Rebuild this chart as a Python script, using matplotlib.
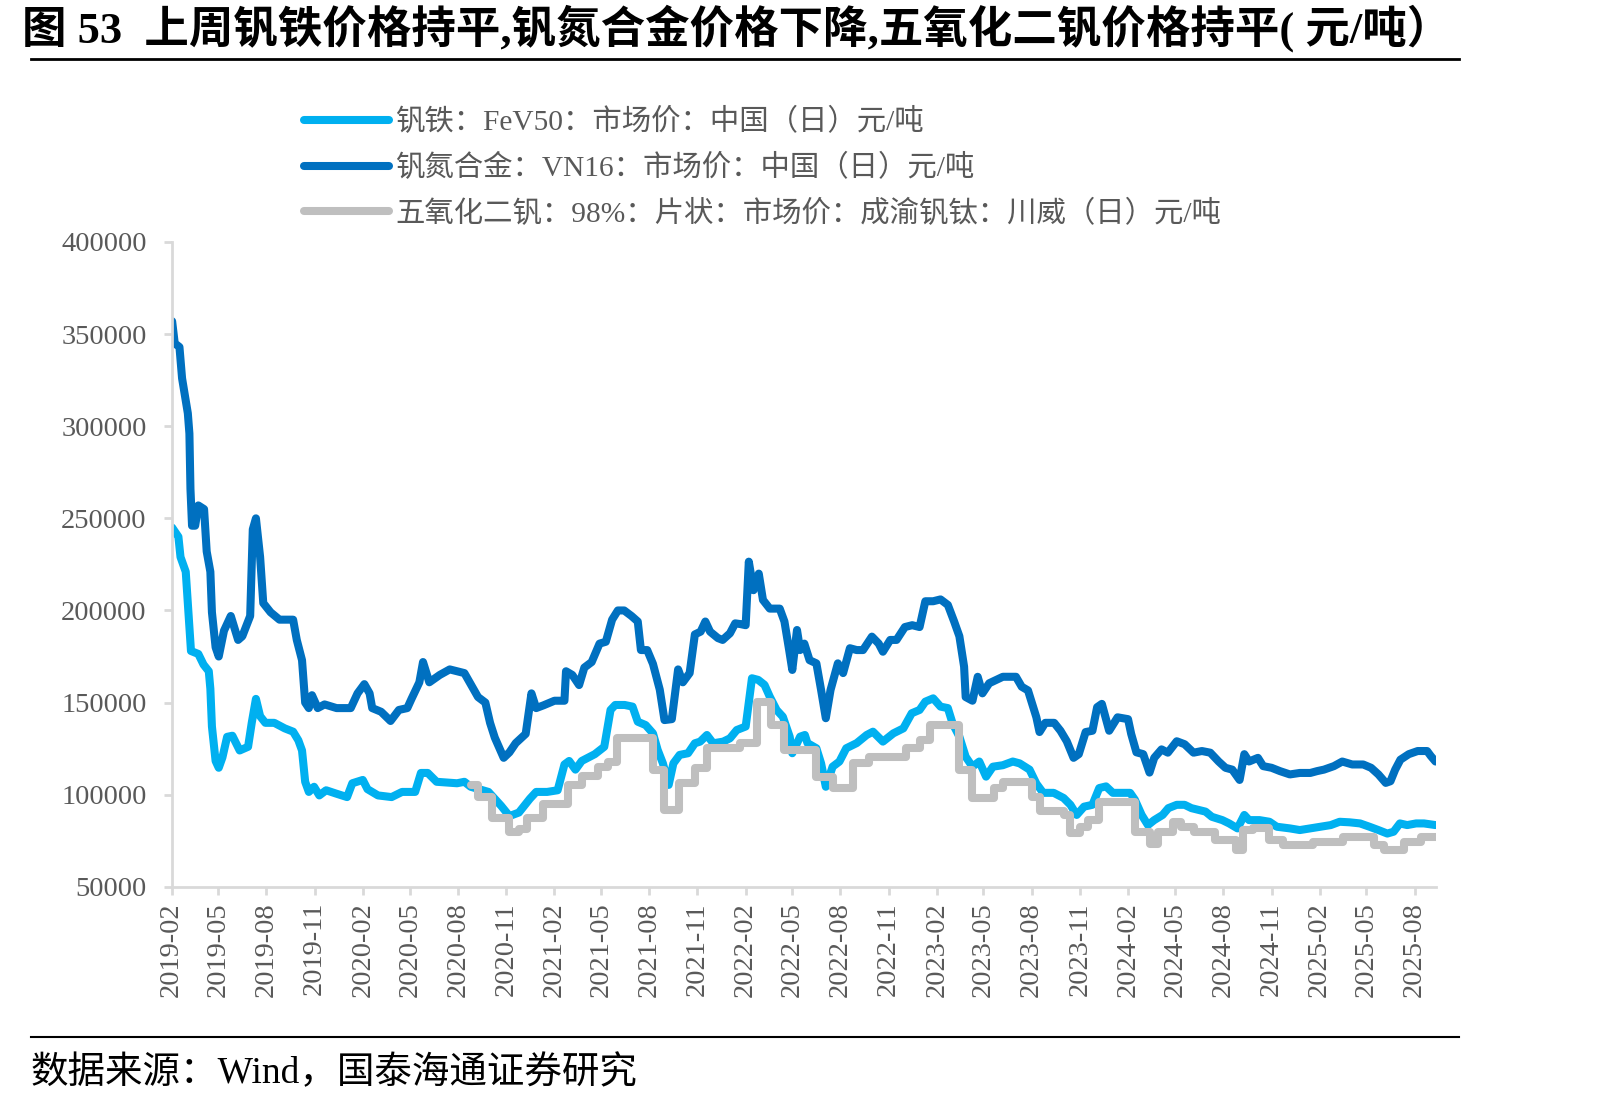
import pandas as pd
import matplotlib
matplotlib.use('Agg')
import matplotlib.pyplot as plt
import matplotlib.dates as mdates
from matplotlib.lines import Line2D

plt.rcParams['font.family'] = ['Liberation Serif', 'Noto Sans CJK SC']

# 钒铁 FeV50 (元/吨)
fev_dates = ['2019-02-02', '2019-02-14', '2019-02-18', '2019-02-28', '2019-03-04', '2019-03-07', '2019-03-10',
             '2019-03-24', '2019-04-03', '2019-04-13', '2019-04-16', '2019-04-19', '2019-04-26', '2019-05-02',
             '2019-05-09', '2019-05-18', '2019-05-28', '2019-06-11', '2019-06-27', '2019-07-04', '2019-07-12',
             '2019-07-20', '2019-07-30', '2019-08-16', '2019-09-05', '2019-09-21', '2019-10-01', '2019-10-08',
             '2019-10-14', '2019-10-21', '2019-10-31', '2019-11-10', '2019-11-23', '2019-12-12', '2020-01-02',
             '2020-01-12', '2020-02-01', '2020-02-10', '2020-03-01', '2020-03-27', '2020-04-16', '2020-05-11',
             '2020-05-22', '2020-06-04', '2020-06-21', '2020-07-30', '2020-08-13', '2020-08-25', '2020-09-28',
             '2020-10-22', '2020-11-07', '2020-11-25', '2020-12-16', '2020-12-28', '2021-01-18', '2021-02-07',
             '2021-02-20', '2021-03-01', '2021-03-13', '2021-03-25', '2021-04-19', '2021-05-07', '2021-05-19',
             '2021-05-28', '2021-06-15', '2021-06-30', '2021-07-10', '2021-07-25', '2021-08-08', '2021-08-17',
             '2021-08-27', '2021-09-07', '2021-09-16', '2021-09-28', '2021-10-14', '2021-10-27', '2021-11-06',
             '2021-11-19', '2021-12-01', '2021-12-20', '2022-01-02', '2022-01-15', '2022-02-01', '2022-02-13',
             '2022-02-25', '2022-03-09', '2022-03-19', '2022-04-01', '2022-04-13', '2022-04-26', '2022-05-01',
             '2022-05-16', '2022-05-25', '2022-05-30', '2022-06-16', '2022-06-25', '2022-07-04', '2022-07-17',
             '2022-07-30', '2022-08-12', '2022-09-01', '2022-09-20', '2022-10-02', '2022-10-21', '2022-11-10',
             '2022-11-29', '2022-12-15', '2022-12-30', '2023-01-10', '2023-01-25', '2023-02-08', '2023-02-22',
             '2023-03-03', '2023-03-16', '2023-03-28', '2023-04-10', '2023-04-23', '2023-05-06', '2023-05-19',
             '2023-06-07', '2023-06-26', '2023-07-09', '2023-07-28', '2023-08-10', '2023-08-23', '2023-09-12',
             '2023-10-01', '2023-10-14', '2023-10-26', '2023-11-09', '2023-11-25', '2023-12-08', '2023-12-21',
             '2024-01-03', '2024-01-19', '2024-02-05', '2024-02-14', '2024-02-27', '2024-03-10', '2024-03-22',
             '2024-04-07', '2024-04-18', '2024-05-04', '2024-05-19', '2024-06-01', '2024-06-15', '2024-06-28',
             '2024-07-10', '2024-07-30', '2024-08-12', '2024-08-28', '2024-09-10', '2024-09-19', '2024-10-09',
             '2024-10-28', '2024-11-11', '2024-12-06', '2024-12-25', '2025-01-14', '2025-02-03', '2025-02-22',
             '2025-03-11', '2025-03-30', '2025-04-19', '2025-05-07', '2025-05-24', '2025-06-10', '2025-06-22',
             '2025-07-04', '2025-07-18', '2025-08-04', '2025-08-19', '2025-09-10']
fev_price = [245000, 240000, 229000, 221000, 204000, 191000, 178000,
             176400, 170600, 167000, 157500, 137000, 118300, 114600,
             120200, 131400, 132000, 124000, 126000, 139000, 152000,
             142600, 139000, 139000, 136000, 134200, 129500, 124000,
             107000, 101500, 104300, 99600, 102400, 100600, 98700,
             106200, 108000, 103000, 99600, 98700, 101500, 101500,
             111800, 111800, 107000, 106200, 107000, 104300, 101500,
             94000, 88400, 90300, 97800, 101500, 101500, 102400,
             116400, 118300, 113600, 118300, 122000, 126000, 146000,
             148700, 148700, 147800, 139600, 137800, 133300, 124300,
             117000, 105300, 117000, 121600, 122500, 127900, 128800,
             132400, 127900, 128800, 130600, 135100, 137000, 163200,
             162300, 159600, 153200, 146000, 142300, 131500, 122500,
             131500, 132400, 128000, 125200, 117000, 104300, 115200,
             118000, 125200, 128000, 132400, 134200, 128800, 133300,
             136000, 144200, 146000, 150500, 152300, 147800, 147000,
             138700, 131500, 120600, 115200, 118000, 109800, 115200,
             116000, 118000, 117000, 113600, 106000, 101000, 101000,
             98200, 94500, 89000, 93500, 94500, 103600, 104500,
             101000, 101000, 101000, 97300, 89000, 83500, 86200,
             89000, 92700, 94500, 94500, 92700, 91700, 90800,
             88000, 86200, 84400, 81700, 89000, 86200, 86200,
             85300, 82600, 81700, 80800, 81700, 82600, 83500,
             85300, 85000, 84400, 82600, 80800, 78900, 79900,
             84400, 83500, 84400, 84400, 83500]

# 钒氮合金 VN16 (元/吨)
vn_dates = ['2019-02-02', '2019-02-07', '2019-02-16', '2019-02-21', '2019-03-04', '2019-03-07', '2019-03-09',
            '2019-03-12', '2019-03-18', '2019-03-24', '2019-04-04', '2019-04-09', '2019-04-16', '2019-04-19',
            '2019-04-26', '2019-05-02', '2019-05-12', '2019-05-25', '2019-06-08', '2019-06-16', '2019-07-01',
            '2019-07-06', '2019-07-12', '2019-07-20', '2019-07-26', '2019-08-09', '2019-08-26', '2019-09-21',
            '2019-09-28', '2019-10-08', '2019-10-14', '2019-10-21', '2019-10-27', '2019-11-07', '2019-11-20',
            '2019-12-13', '2020-01-09', '2020-01-22', '2020-02-04', '2020-02-14', '2020-02-19', '2020-03-07',
            '2020-03-25', '2020-04-10', '2020-04-26', '2020-05-04', '2020-05-19', '2020-05-26', '2020-06-07',
            '2020-06-27', '2020-07-16', '2020-08-13', '2020-08-25', '2020-09-08', '2020-09-22', '2020-10-01',
            '2020-10-10', '2020-10-27', '2020-11-07', '2020-11-19', '2020-12-08', '2020-12-19', '2020-12-28',
            '2021-01-11', '2021-02-01', '2021-02-20', '2021-02-23', '2021-03-07', '2021-03-20', '2021-03-30',
            '2021-04-13', '2021-04-28', '2021-05-10', '2021-05-22', '2021-06-02', '2021-06-14', '2021-06-28',
            '2021-07-10', '2021-07-16', '2021-07-28', '2021-08-08', '2021-08-21', '2021-08-30', '2021-09-13',
            '2021-09-25', '2021-10-04', '2021-10-17', '2021-10-27', '2021-11-07', '2021-11-16', '2021-11-25',
            '2021-12-10', '2021-12-19', '2022-01-02', '2022-01-12', '2022-01-22', '2022-02-01', '2022-02-07',
            '2022-02-16', '2022-02-26', '2022-03-06', '2022-03-19', '2022-04-07', '2022-04-16', '2022-04-25',
            '2022-05-01', '2022-05-10', '2022-05-16', '2022-05-24', '2022-06-03', '2022-06-16', '2022-06-25',
            '2022-07-04', '2022-07-13', '2022-07-27', '2022-08-06', '2022-08-19', '2022-09-01', '2022-09-13',
            '2022-09-30', '2022-10-13', '2022-10-21', '2022-11-04', '2022-11-16', '2022-12-02', '2022-12-16',
            '2022-12-30', '2023-01-10', '2023-01-25', '2023-02-08', '2023-02-22', '2023-03-06', '2023-03-16',
            '2023-03-25', '2023-03-28', '2023-04-10', '2023-04-20', '2023-04-29', '2023-05-12', '2023-06-07',
            '2023-07-02', '2023-07-13', '2023-07-25', '2023-08-10', '2023-08-16', '2023-08-27', '2023-09-13',
            '2023-09-25', '2023-10-07', '2023-10-20', '2023-10-30', '2023-11-12', '2023-11-25', '2023-12-04',
            '2023-12-13', '2023-12-27', '2024-01-12', '2024-02-01', '2024-02-07', '2024-02-17', '2024-03-01',
            '2024-03-13', '2024-03-22', '2024-04-05', '2024-04-17', '2024-05-04', '2024-05-19', '2024-06-05',
            '2024-06-21', '2024-07-07', '2024-07-23', '2024-08-05', '2024-08-18', '2024-09-01', '2024-09-10',
            '2024-09-19', '2024-10-06', '2024-10-16', '2024-11-01', '2024-11-17', '2024-12-06', '2024-12-25',
            '2025-01-14', '2025-01-27', '2025-02-09', '2025-02-28', '2025-03-16', '2025-04-04', '2025-04-25',
            '2025-05-10', '2025-05-24', '2025-06-07', '2025-06-16', '2025-06-25', '2025-07-05', '2025-07-21',
            '2025-08-07', '2025-08-25', '2025-09-01', '2025-09-10']
vn_price = [357000, 345000, 343000, 326000, 307000, 296000, 266000,
            246000, 246000, 257000, 255000, 232000, 221000, 199000,
            180000, 175000, 189000, 197000, 184000, 186000, 197000,
            244000, 250000, 229000, 204000, 199000, 195000, 195000,
            184000, 173000, 150000, 147000, 154000, 147000, 149000,
            147000, 147000, 155000, 160000, 155000, 147000, 145000,
            140000, 146000, 147000, 152000, 161000, 172000, 161000,
            165000, 168000, 166000, 160000, 153000, 150000, 139000,
            131000, 120000, 123000, 128000, 133000, 155000, 147000,
            148500, 151000, 151000, 167000, 165000, 159500, 169000,
            172000, 182000, 183000, 195000, 200000, 200000, 197000,
            194000, 178500, 178500, 171000, 157000, 140500, 141000,
            168000, 161000, 166000, 187000, 188500, 194000, 188500,
            185000, 184000, 187600, 193000, 192600, 192000, 226500,
            211000, 220000, 205700, 201000, 201000, 194000, 178500,
            167700, 189400, 178500, 182000, 173000, 171300, 156800,
            141500, 156800, 171300, 166000, 179500, 178500, 178500,
            185800, 182000, 177600, 184000, 184000, 191000, 192000,
            191000, 205000, 205000, 206000, 203000, 194000, 186000,
            169500, 153000, 151000, 164000, 155000, 160500, 164000,
            164000, 158600, 156600, 142000, 134000, 139000, 139000,
            134700, 129000, 120000, 122000, 134000, 134700, 147500,
            149300, 134700, 142000, 141000, 133000, 123000, 122000,
            112000, 120000, 124600, 122800, 129000, 127400, 122800,
            123700, 122800, 118000, 114600, 113600, 108000, 122000,
            118000, 120000, 115500, 114600, 112800, 111000, 111800,
            111800, 112800, 113600, 115500, 118000, 116400, 116400,
            114600, 111000, 106400, 107300, 113600, 119000, 122000,
            123700, 123700, 121000, 118000]

# 五氧化二钒 98% 片状 (元/吨), 阶梯报价
v2o5_dates = ['2020-08-25', '2020-09-08', '2020-10-04', '2020-11-07', '2020-11-25', '2020-12-10', '2021-01-11',
              '2021-02-26', '2021-03-26', '2021-04-25', '2021-05-15', '2021-06-01', '2021-08-09', '2021-08-30',
              '2021-09-27', '2021-10-27', '2021-11-19', '2022-01-21', '2022-02-22', '2022-03-21', '2022-04-16',
              '2022-06-16', '2022-07-17', '2022-08-25', '2022-09-25', '2022-12-05', '2022-12-30', '2023-01-19',
              '2023-03-16', '2023-04-10', '2023-05-22', '2023-06-07', '2023-08-01', '2023-08-17', '2023-10-01',
              '2023-10-14', '2023-11-02', '2023-11-16', '2023-12-08', '2024-02-14', '2024-03-13', '2024-03-29',
              '2024-04-27', '2024-05-13', '2024-06-05', '2024-07-16', '2024-08-25', '2024-09-07', '2024-09-26',
              '2024-10-28', '2024-11-23', '2025-01-20', '2025-03-18', '2025-05-15', '2025-06-04', '2025-07-12',
              '2025-08-13', '2025-09-10']
v2o5_price = [105300, 98700, 87500, 80000, 81500, 87500, 95000,
              105300, 110000, 115000, 118000, 130600, 113400, 91700,
              106200, 114300, 125200, 127900, 150500, 137800, 124300,
              109800, 103500, 117000, 120600, 125200, 129700, 137800,
              113400, 98000, 103500, 107000, 98900, 91000, 89000,
              79000, 82600, 86000, 96300, 80000, 73500, 80000,
              85300, 82600, 80000, 75400, 70000, 80800, 81700,
              75400, 72600, 74500, 77200, 72600, 70000, 74500,
              77200, 77200]

series_labels = ['钒铁：FeV50：市场价：中国（日）元/吨',
                 '钒氮合金：VN16：市场价：中国（日）元/吨',
                 '五氧化二钒：98%：片状：市场价：成渝钒钛：川威（日）元/吨']
title = '图 53  上周钒铁价格持平,钒氮合金价格下降,五氧化二钒价格持平( 元/吨）'
source = '数据来源：Wind，国泰海通证券研究'

W, H = 1602, 1103
fig = plt.figure(figsize=(W / 100, H / 100), dpi=100)
ax = fig.add_axes([171.6 / W, 1 - 886.8 / H, (1435.5 - 171.6) / W, (886.8 - 242) / H])

lw = 5.8
ax.plot(pd.to_datetime(fev_dates), fev_price, color='#00B0F0', lw=lw,
        solid_joinstyle='round', solid_capstyle='round', label=series_labels[0])
ax.plot(pd.to_datetime(vn_dates), vn_price, color='#0070C0', lw=lw,
        solid_joinstyle='round', solid_capstyle='round', label=series_labels[1])
ax.plot(pd.to_datetime(v2o5_dates), v2o5_price, color='#BFBFBF', lw=lw, drawstyle='steps-post',
        solid_joinstyle='round', solid_capstyle='round', label=series_labels[2])

ax.set_ylim(50000, 400000)
ax.set_yticks(range(50000, 400001, 50000))
ax.set_xlim(pd.Timestamp('2019-02-01'), pd.Timestamp('2025-09-10'))
ax.xaxis.set_major_locator(mdates.MonthLocator(bymonth=[2, 5, 8, 11]))
ax.xaxis.set_major_formatter(mdates.DateFormatter('%Y-%m'))

for s in ['top', 'right']:
    ax.spines[s].set_visible(False)
for s in ['left', 'bottom']:
    ax.spines[s].set_color('#D9D9D9')
    ax.spines[s].set_linewidth(2)
ax.tick_params(axis='both', colors='#D9D9D9', width=2, length=6, labelcolor='#595959', labelsize=20.5)
ax.tick_params(axis='y', pad=12)
ax.tick_params(axis='x', pad=5)
for lab in ax.get_xticklabels():
    lab.set_rotation(90)

leg = fig.legend(loc='upper left', bbox_to_anchor=(304 / W, 1 - 108 / H), frameon=False,
                 fontsize=21.2, handlelength=2.9, handletextpad=0.22, labelspacing=0.6,
                 borderpad=0, borderaxespad=0)
for t in leg.get_texts():
    t.set_color('#595959')

fig.text(22 / W, 1 - 28 / H, title, fontsize=32, fontweight='bold', va='center', ha='left')
fig.add_artist(Line2D([31 / W, 1459 / W], [1 - 59 / H] * 2, color='black', lw=2))
fig.add_artist(Line2D([31 / W, 1459 / W], [1 - 1037 / H] * 2, color='black', lw=1.5))
fig.text(31 / W, 1 - 1073 / H, source, fontsize=27, va='center', ha='left')

fig.savefig('out.png', dpi=100)
